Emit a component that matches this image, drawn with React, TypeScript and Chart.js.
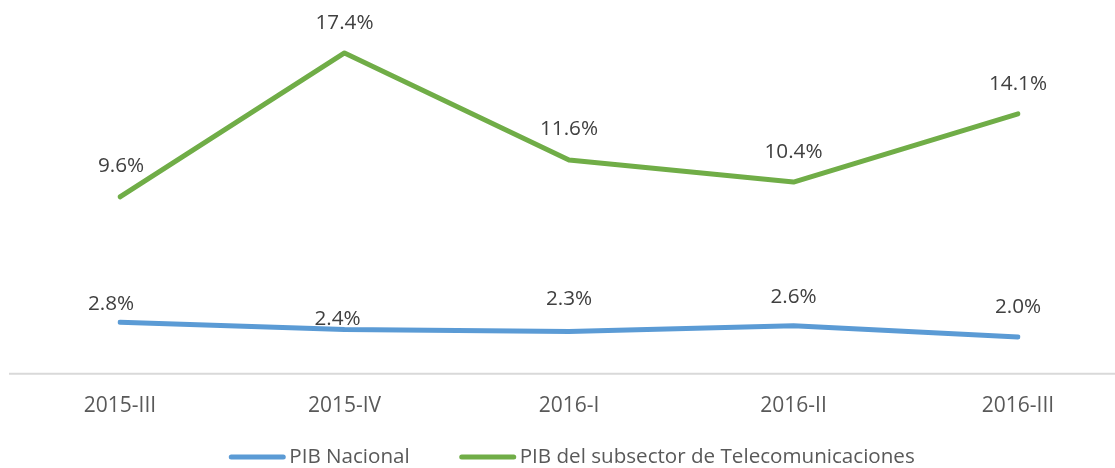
import React, { useEffect, useRef } from "react";
import { Chart, registerables } from "chart.js";

Chart.register(...registerables);

const categories = ["2015-III", "2015-IV", "2016-I", "2016-II", "2016-III"];
const pibNacional = [2.8, 2.4, 2.3, 2.6, 2.0];
const pibTelecom = [9.6, 17.4, 11.6, 10.4, 14.1];
const seriesNames = ["PIB Nacional", "PIB del subsector de Telecomunicaciones"];

const BLUE = "#5b9bd5";
const GREEN = "#70ad47";
const FONT = "'Open Sans', sans-serif";

// label placement offsets (style only)
const labelOffsets: [number, number][][] = [
  [[-9, -18], [-7, -10], [0, -32], [0, -29], [0, -30]],
  [[1, -31], [0, -30], [0, -31], [0, -30], [0, -30]],
];

const axisLinePlugin = {
  id: "axisLine",
  beforeDatasetsDraw(chart: any) {
    const { ctx, chartArea } = chart;
    ctx.save();
    ctx.strokeStyle = "#d9d9d9";
    ctx.lineWidth = 2;
    ctx.beginPath();
    ctx.moveTo(9, chartArea.bottom);
    ctx.lineTo(chart.width, chartArea.bottom);
    ctx.stroke();
    ctx.restore();
  },
};

const labelsPlugin = {
  id: "pointLabels",
  afterDatasetsDraw(chart: any) {
    const { ctx } = chart;
    ctx.save();
    ctx.font = `20.7px ${FONT}`;
    ctx.fillStyle = "#404040";
    ctx.textAlign = "center";
    ctx.textBaseline = "middle";
    chart.data.datasets.forEach((ds: any, di: number) => {
      const meta = chart.getDatasetMeta(di);
      meta.data.forEach((pt: any, i: number) => {
        const v = ds.data[i] as number;
        const [dx, dy] = labelOffsets[di][i];
        ctx.fillText(`${v.toFixed(1)}%`, pt.x + dx, pt.y + dy);
      });
    });
    ctx.restore();
  },
};

const legendPlugin = {
  id: "customLegend",
  afterDraw(chart: any) {
    const { ctx } = chart;
    ctx.save();
    ctx.font = `20.6px ${FONT}`;
    const lineW = 56;
    const gap = 4;
    const itemGap = 50;
    const items = chart.data.datasets.map((ds: any) => ({
      text: ds.label,
      color: ds.borderColor,
      w: lineW + gap + ctx.measureText(ds.label).width,
    }));
    const total = items.reduce((s: number, it: any) => s + it.w, 0) + itemGap * (items.length - 1);
    let x = 572 - total / 2;
    const y = 457;
    items.forEach((it: any) => {
      ctx.strokeStyle = it.color;
      ctx.lineWidth = 5;
      ctx.lineCap = "round";
      ctx.beginPath();
      ctx.moveTo(x + 2, y);
      ctx.lineTo(x + lineW - 2, y);
      ctx.stroke();
      ctx.fillStyle = "#595959";
      ctx.textAlign = "left";
      ctx.textBaseline = "middle";
      ctx.fillText(it.text, x + lineW + gap, y);
      x += it.w + itemGap;
    });
    ctx.restore();
  },
};

export default function App() {
  const ref = useRef<HTMLCanvasElement>(null);
  useEffect(() => {
    if (!ref.current) return;
    const chart = new Chart(ref.current, {
      type: "line",
      data: {
        labels: categories,
        datasets: [
          {
            label: seriesNames[0],
            data: pibNacional,
            borderColor: BLUE,
            backgroundColor: BLUE,
            borderWidth: 5,
            borderCapStyle: "round",
            borderJoinStyle: "round",
            pointRadius: 0,
            tension: 0,
          },
          {
            label: seriesNames[1],
            data: pibTelecom,
            borderColor: GREEN,
            backgroundColor: GREEN,
            borderWidth: 5,
            borderCapStyle: "round",
            borderJoinStyle: "round",
            pointRadius: 0,
            tension: 0,
          },
        ],
      },
      options: {
        animation: false,
        responsive: false,
        maintainAspectRatio: false,
        layout: { padding: { top: 5, left: 120, right: 97, bottom: 29 } },
        plugins: {
          legend: { display: false },
          tooltip: { enabled: false },
        },
        scales: {
          x: {
            offset: false,
            grid: { display: false, drawTicks: false },
            border: { display: false },
            ticks: {
              padding: 20,
              color: "#595959",
              font: { family: FONT, size: 21 },
              maxRotation: 0,
              autoSkip: false,
            },
          },
          y: {
            display: false,
            min: 0,
            max: 20,
          },
        },
      },
      plugins: [axisLinePlugin, labelsPlugin, legendPlugin],
    });
    return () => chart.destroy();
  }, []);
  return (
    <div style={{ position: "absolute", left: 0, top: 0, width: 1115, height: 468, background: "#fff" }}>
      <canvas ref={ref} width={1115} height={468} style={{ display: "block" }} />
    </div>
  );
}
